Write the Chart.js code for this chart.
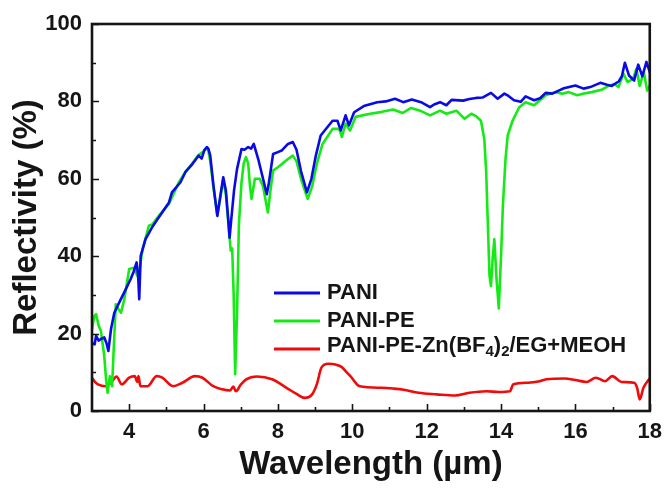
<!DOCTYPE html>
<html>
<head>
<meta charset="utf-8">
<script src="https://cdn.jsdelivr.net/npm/chart.js@4/dist/chart.umd.min.js"></script>
<style>
  html, body { margin: 0; padding: 0; background: #fff; }
  #wrap { width: 670px; height: 489px; }
</style>
</head>
<body>
<div id="wrap"><canvas id="chart" width="670" height="489"></canvas></div>
<script>
// Reflectivity spectra (%), wavelength in micrometres
const paniWavelength = [3.0, 3.07, 3.11, 3.18, 3.24, 3.33, 3.39, 3.44, 3.51, 3.6, 3.73, 3.91, 4.04, 4.12, 4.2, 4.24, 4.27, 4.31, 4.44, 4.6, 4.71, 4.9, 5.07, 5.15, 5.38, 5.51, 5.7, 5.87, 5.95, 6.02, 6.09, 6.13, 6.18, 6.27, 6.37, 6.45, 6.53, 6.6, 6.66, 6.7, 6.75, 6.82, 6.9, 7.02, 7.1, 7.2, 7.28, 7.35, 7.47, 7.6, 7.7, 7.75, 7.87, 8.0, 8.1, 8.27, 8.4, 8.5, 8.62, 8.78, 8.9, 9.02, 9.15, 9.3, 9.47, 9.6, 9.69, 9.82, 9.91, 10.05, 10.31, 10.67, 10.9, 11.15, 11.37, 11.6, 11.85, 12.09, 12.2, 12.36, 12.53, 12.67, 12.98, 13.15, 13.33, 13.5, 13.73, 13.91, 14.09, 14.2, 14.35, 14.53, 14.66, 14.89, 15.05, 15.2, 15.38, 15.55, 15.69, 16.0, 16.22, 16.4, 16.67, 16.85, 16.98, 17.17, 17.25, 17.33, 17.44, 17.58, 17.69, 17.8, 17.91, 18.0];
const paniValues = [17.5, 17.2, 19.4, 18.2, 18.6, 19.0, 17.5, 15.5, 21.1, 25.4, 28.0, 31.5, 34.1, 36.0, 38.4, 35.0, 28.9, 40.1, 44.4, 47.2, 48.8, 51.5, 53.9, 56.5, 59.1, 61.7, 63.8, 66.0, 65.2, 67.4, 68.2, 67.8, 66.0, 58.0, 50.4, 55.5, 60.4, 57.0, 50.0, 44.8, 50.0, 57.0, 62.5, 67.7, 67.5, 68.2, 67.8, 69.0, 65.1, 60.0, 56.0, 58.5, 66.4, 66.9, 67.3, 69.0, 69.5, 67.5, 62.0, 56.5, 60.0, 66.0, 71.2, 73.0, 75.0, 75.0, 72.5, 76.4, 73.8, 77.2, 78.8, 79.8, 80.0, 80.7, 79.8, 80.5, 79.8, 78.5, 79.2, 79.8, 79.0, 80.4, 80.2, 80.6, 80.9, 81.0, 82.2, 80.7, 82.0, 81.4, 80.3, 79.9, 81.3, 80.3, 80.8, 82.2, 82.0, 82.8, 83.4, 84.1, 83.3, 83.7, 84.8, 84.3, 84.0, 85.2, 86.5, 90.0, 86.7, 85.4, 89.5, 86.5, 90.2, 87.6];

const paniPeWavelength = [3.0, 3.06, 3.11, 3.18, 3.24, 3.33, 3.38, 3.42, 3.48, 3.54, 3.6, 3.64, 3.7, 3.78, 3.87, 4.0, 4.13, 4.22, 4.27, 4.36, 4.53, 4.62, 4.8, 5.07, 5.33, 5.51, 5.7, 5.87, 6.0, 6.08, 6.13, 6.18, 6.27, 6.37, 6.45, 6.53, 6.6, 6.67, 6.73, 6.77, 6.81, 6.85, 6.9, 6.95, 7.02, 7.08, 7.14, 7.2, 7.25, 7.29, 7.38, 7.51, 7.6, 7.73, 7.8, 7.87, 8.0, 8.27, 8.4, 8.5, 8.62, 8.8, 8.92, 9.05, 9.2, 9.47, 9.65, 9.72, 9.82, 9.94, 10.09, 10.48, 10.8, 11.1, 11.35, 11.58, 11.85, 12.09, 12.36, 12.53, 12.8, 13.02, 13.2, 13.33, 13.46, 13.55, 13.6, 13.64, 13.69, 13.73, 13.78, 13.82, 13.88, 13.94, 14.0, 14.05, 14.12, 14.18, 14.31, 14.49, 14.66, 14.89, 15.2, 15.47, 15.65, 15.82, 16.05, 16.2, 16.44, 16.7, 16.89, 17.05, 17.16, 17.29, 17.4, 17.55, 17.64, 17.73, 17.84, 17.93, 18.0];
const paniPeValues = [21.1, 24.5, 25.0, 22.0, 20.7, 14.2, 8.0, 4.7, 9.0, 6.4, 19.4, 27.6, 26.5, 25.4, 28.9, 36.7, 37.0, 34.9, 36.0, 41.8, 47.9, 48.2, 50.5, 53.5, 59.0, 61.8, 64.0, 66.2, 67.0, 68.0, 67.2, 64.5, 57.5, 50.6, 55.0, 59.8, 56.0, 48.0, 41.5, 42.0, 30.0, 9.5, 25.0, 48.0, 59.0, 64.0, 65.6, 64.0, 58.0, 54.8, 60.0, 60.0, 58.0, 51.3, 57.0, 62.1, 63.0, 65.1, 66.0, 64.5, 60.0, 54.8, 58.0, 64.0, 69.0, 72.9, 72.9, 70.8, 74.2, 72.5, 76.0, 76.8, 77.3, 77.9, 77.0, 78.3, 77.5, 76.4, 77.6, 76.8, 77.6, 75.5, 76.8, 76.2, 75.0, 70.3, 62.0, 50.0, 35.0, 32.3, 40.0, 44.4, 34.0, 26.5, 40.0, 53.0, 65.0, 71.2, 75.0, 78.5, 79.8, 79.0, 81.6, 82.4, 82.0, 82.4, 81.6, 82.0, 82.4, 83.0, 84.0, 84.5, 83.7, 87.2, 85.0, 85.8, 88.4, 84.0, 87.6, 82.8, 84.0];

const electrolyteWavelength = [3.0, 3.08, 3.16, 3.36, 3.51, 3.66, 3.8, 4.0, 4.15, 4.22, 4.25, 4.3, 4.49, 4.74, 4.89, 5.18, 5.43, 5.77, 5.97, 6.26, 6.5, 6.71, 6.8, 6.87, 7.0, 7.15, 7.44, 7.84, 8.23, 8.5, 8.72, 8.92, 9.05, 9.17, 9.36, 9.55, 9.71, 9.85, 9.95, 10.2, 10.79, 11.1, 11.38, 11.78, 12.27, 12.76, 13.15, 13.6, 13.94, 14.24, 14.33, 14.73, 15.0, 15.22, 15.71, 16.0, 16.3, 16.55, 16.8, 16.99, 17.24, 17.58, 17.66, 17.73, 17.83, 17.98];
const electrolyteValues = [8.6, 7.5, 6.9, 6.4, 7.3, 8.9, 6.9, 8.6, 9.0, 7.5, 9.0, 6.4, 6.4, 9.0, 8.6, 6.4, 7.3, 9.0, 8.6, 6.4, 5.6, 5.3, 6.3, 5.1, 6.8, 8.2, 8.9, 8.2, 6.0, 4.4, 3.4, 4.3, 7.0, 11.2, 12.2, 12.0, 11.4, 10.0, 9.0, 6.4, 6.0, 5.8, 5.5, 4.7, 4.3, 4.0, 4.7, 5.1, 4.9, 5.1, 6.9, 7.3, 7.6, 8.2, 8.4, 8.0, 7.5, 8.6, 7.7, 9.0, 7.5, 7.3, 6.0, 3.0, 6.0, 8.2];

const seriesNames = ['PANI', 'PANI-PE', 'PANI-PE-Zn(BF4)2/EG+MEOH'];
const seriesColors = ['rgb(10,10,230)', 'rgb(20,235,20)', 'rgb(240,10,10)'];

const xTickLabels = [4, 6, 8, 10, 12, 14, 16, 18];
const xMinorTicks = [5, 7, 9, 11, 13, 15, 17];
const yTickLabels = [0, 20, 40, 60, 80, 100];
const yMinorTicks = [10, 30, 50, 70, 90];

const FONT = "'Liberation Sans', Arial, sans-serif";
const INK = '#151515';

function toPoints(xs, ys) {
  return xs.map((x, i) => ({ x: x, y: ys[i] }));
}

// Frame around the plot plus inward-pointing tick marks
const framePlugin = {
  id: 'frame',
  afterDraw(chart) {
    const { ctx, chartArea: a, scales: { x, y } } = chart;
    ctx.save();
    ctx.strokeStyle = INK;
    ctx.lineWidth = 1.6;
    ctx.beginPath();
    const tick = (v, len, horiz) => {
      if (horiz) {
        const px = Math.round(x.getPixelForValue(v)) + 0.5;
        ctx.moveTo(px, a.bottom);
        ctx.lineTo(px, a.bottom - len);
      } else {
        const py = Math.round(y.getPixelForValue(v)) + 0.5;
        ctx.moveTo(a.left, py);
        ctx.lineTo(a.left + len, py);
      }
    };
    xTickLabels.forEach(v => tick(v, 7, true));
    xMinorTicks.forEach(v => tick(v, 4, true));
    yTickLabels.forEach(v => tick(v, 7, false));
    yMinorTicks.forEach(v => tick(v, 4, false));
    ctx.stroke();
    ctx.lineWidth = 2.6;
    ctx.strokeRect(a.left, a.top, a.right - a.left, a.bottom - a.top);
    ctx.restore();
  }
};

// Legend drawn inside the plot, with subscripted formula digits
const legendPlugin = {
  id: 'insideLegend',
  afterDatasetsDraw(chart) {
    const { ctx } = chart;
    const rows = [
      { line: 293, text: 293 },
      { line: 321, text: 320.5 },
      { line: 349, text: 346 }
    ];
    const big = "bold 22px " + FONT;
    const small = "bold 15px " + FONT;
    ctx.save();
    seriesNames.forEach((name, i) => {
      const r = rows[i];
      ctx.strokeStyle = seriesColors[i];
      ctx.lineWidth = 3;
      ctx.beginPath();
      ctx.moveTo(274, r.line);
      ctx.lineTo(320, r.line);
      ctx.stroke();
      ctx.fillStyle = INK;
      ctx.textBaseline = 'middle';
      ctx.textAlign = 'left';
      // split digits that follow a letter or ')' into subscripts
      const parts = name.match(/(?<=[A-Za-z)])\d|[^\d]+|\d/g);
      let cx = 327;
      parts.forEach((p, k) => {
        const prev = k > 0 ? parts[k - 1] : '';
        const isSub = /^\d$/.test(p) && /[A-Za-z)]$/.test(prev);
        ctx.font = isSub ? small : big;
        ctx.fillText(p, cx, r.text + (isSub ? 6 : 0));
        cx += ctx.measureText(p).width;
      });
    });
    ctx.restore();
  }
};

const ctx = document.getElementById('chart').getContext('2d');
new Chart(ctx, {
  type: 'line',
  data: {
    datasets: [
      { label: seriesNames[0], data: toPoints(paniWavelength, paniValues), borderColor: seriesColors[0] },
      { label: seriesNames[1], data: toPoints(paniPeWavelength, paniPeValues), borderColor: seriesColors[1] },
      { label: seriesNames[2], data: toPoints(electrolyteWavelength, electrolyteValues), borderColor: seriesColors[2], cubicInterpolationMode: 'monotone' }
    ]
  },
  options: {
    responsive: false,
    animation: false,
    parsing: true,
    layout: { padding: { left: 0, right: 13, top: 24, bottom: 0 } },
    elements: {
      point: { radius: 0 },
      line: { borderWidth: 2.6, tension: 0, fill: false, borderJoinStyle: 'round', borderCapStyle: 'round' }
    },
    plugins: {
      legend: { display: false },
      tooltip: { enabled: false }
    },
    scales: {
      x: {
        type: 'linear',
        min: 3,
        max: 18,
        afterBuildTicks: s => { s.ticks = xTickLabels.map(v => ({ value: v })); },
        afterFit: s => { s.height = 78; },
        grid: { display: false, drawTicks: false },
        border: { display: false },
        ticks: { color: INK, font: { family: FONT, size: 22, weight: 'bold' }, padding: 8, maxRotation: 0, autoSkip: false },
        title: { display: true, text: 'Wavelength (µm)', color: INK, font: { family: FONT, size: 33, weight: 'bold' }, padding: { top: 0, bottom: 4 } }
      },
      y: {
        min: 0,
        max: 100,
        afterBuildTicks: s => { s.ticks = yTickLabels.map(v => ({ value: v })); },
        afterFit: s => { s.width = 92; },
        grid: { display: false, drawTicks: false },
        border: { display: false },
        ticks: { color: INK, font: { family: FONT, size: 22, weight: 'bold' }, padding: 10 },
        title: { display: true, text: 'Reflectivity (%)', color: INK, font: { family: FONT, size: 33, weight: 'bold' }, padding: { top: 7, bottom: 0 } }
      }
    }
  },
  plugins: [framePlugin, legendPlugin]
});
</script>
</body>
</html>
